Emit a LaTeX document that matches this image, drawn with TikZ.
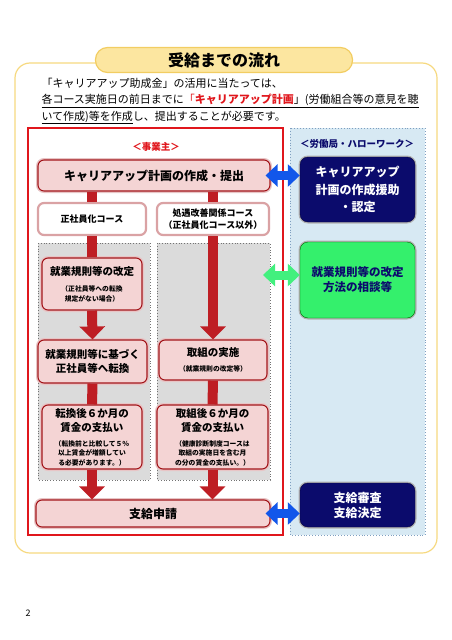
\documentclass[tikz,border=0pt]{standalone}
\usepackage{fontspec}
\setmainfont{Noto Sans CJK JP}
\usetikzlibrary{arrows.meta}
\definecolor{tabline}{HTML}{F2CD62}
\definecolor{tabfill}{HTML}{FCE6A0}
\definecolor{outline}{HTML}{F6D980}
\definecolor{framered}{HTML}{E0161C}
\definecolor{panelblue}{HTML}{D7E9F3}
\definecolor{panelblueline}{HTML}{7F9FC0}
\definecolor{panelgray}{HTML}{DBDBDB}
\definecolor{boxpink}{HTML}{F4D4D4}
\definecolor{boxred}{HTML}{A3161B}
\definecolor{arrred}{HTML}{BE1E24}
\definecolor{navy}{HTML}{0B0B6C}
\definecolor{consultgreen}{HTML}{34F06C}
\definecolor{arrblue}{HTML}{1257EA}
\definecolor{arrgreen}{HTML}{42F07E}
\definecolor{titlered}{HTML}{E0161C}
\newcommand{\notesize}{\fontsize{6.8}{9}\selectfont}
\begin{document}
\begin{tikzpicture}[x=1pt,y=-1pt,
  flowbox/.style={draw=boxred, line width=1.1pt, fill=boxpink, rounded corners=6pt,
    align=center, inner sep=2pt, preaction={draw=boxred!25, line width=4pt}},
  coursebox/.style={draw=boxred!40, line width=2.2pt, fill=white, rounded corners=6pt,
    align=center, inner sep=2pt, font=\fontsize{9}{12}\selectfont\bfseries},
  navybox/.style={draw=navy!60!black, fill=navy, rounded corners=8pt, text=white,
    align=center, preaction={draw=black!30, line width=3pt}},
  panel/.style={fill=panelgray, draw=black!55, dotted, line width=0.8pt},
  redarrow/.style={draw=arrred, line width=10pt},
  redhead/.style={redarrow, -{Triangle[length=13pt,width=25pt]}},
  dblarrow/.style={line width=9pt, {Triangle[length=12pt,width=22pt]}-{Triangle[length=12pt,width=22pt]}}
]
\useasboundingbox (0,0) rectangle (452,640);

% frame and title tab
\draw[outline, line width=1.2pt, rounded corners=15pt] (15,63) rectangle (437,553);
\node[draw=tabline, fill=tabfill, line width=1.2pt, rounded corners=12pt, minimum width=257pt,
  minimum height=25pt, font=\fontsize{16}{16}\selectfont\bfseries] (title) at (224,60) {受給までの流れ};

\node[anchor=west, align=left, font=\fontsize{11}{16.5}\selectfont] (intro) at (38,101)
  {「キャリアアップ助成金」の活用に当たっては、\\
   \underline{各コース実施日の前日までに\textcolor{titlered}{「\textbf{キャリアアップ計画}}」(労働組合等の意見を聴}\\
   \underline{いて作成)等を作成}し、提出することが必要です。};

% the two areas
\draw[framered, line width=1.6pt] (28,128) rectangle (283,535);
\draw[fill=panelblue, draw=panelblueline, dotted, line width=0.9pt] (290,128) rectangle (425,535);
\node[text=framered, font=\fontsize{9.5}{10}\selectfont\bfseries] (owner) at (156,147) {＜事業主＞};
\node[text=navy, font=\fontsize{9.5}{10}\selectfont\bfseries] (office) at (357,144) {＜労働局・ハローワーク＞};

\draw[panel] (38,243) rectangle (150,480);
\draw[panel] (157,243) rectangle (270,480);

% employer side
\node[flowbox, minimum width=232pt, minimum height=31pt, font=\fontsize{12}{14}\selectfont\bfseries]
  (plan) at (154,175.5) {キャリアアップ計画の作成・提出};
\node[coursebox, minimum width=108pt, minimum height=32pt] (regular) at (92,219) {正社員化コース};
\node[coursebox, minimum width=112pt, minimum height=32pt] (treat) at (213,219)
  {処遇改善関係コース\\（正社員化コース以外）};
\node[flowbox, minimum width=100pt, minimum height=52pt, font=\fontsize{10.5}{13}\selectfont\bfseries]
  (rules) at (92,284) {就業規則等の改定\\[3pt]\notesize（正社員等への転換\\[-3pt]\notesize 規定がない場合）};
\node[flowbox, minimum width=109pt, minimum height=43pt, font=\fontsize{10.5}{14}\selectfont\bfseries]
  (convert) at (92.5,361.5) {就業規則等に基づく\\正社員等へ転換};
\node[flowbox, minimum width=108pt, minimum height=40pt, font=\fontsize{10.5}{13}\selectfont\bfseries]
  (action) at (213,360) {取組の実施\\[2pt]\notesize（就業規則の改定等）};
\node[flowbox, minimum width=100pt, minimum height=64pt, font=\fontsize{10.5}{14}\selectfont\bfseries]
  (wage1) at (92,437) {転換後６か月の\\賃金の支払い\\[1pt]\notesize（転換前と比較して５％\\[-4.5pt]\notesize 以上賃金が増額してい\\[-4.5pt]\notesize る必要があります。）};
\node[flowbox, minimum width=111pt, minimum height=64pt, font=\fontsize{10.5}{14}\selectfont\bfseries]
  (wage2) at (212.5,437) {取組後６か月の\\賃金の支払い\\[1pt]\notesize（健康診断制度コースは\\[-4.5pt]\notesize 取組の実施日を含む月\\[-4.5pt]\notesize の分の賃金の支払い。）};
\node[flowbox, minimum width=234pt, minimum height=27pt, font=\fontsize{12}{14}\selectfont\bfseries]
  (apply) at (153,513.5) {支給申請};

% labour office side
\node[navybox, minimum width=115pt, minimum height=65pt, font=\fontsize{12}{17.5}\selectfont\bfseries]
  (support) at (357.5,189.5) {キャリアアップ\\計画の作成援助\\・認定};
\node[draw=green!40!black, fill=consultgreen, rounded corners=8pt, text=navy, align=center,
  preaction={draw=black!30, line width=3pt},
  minimum width=115pt, minimum height=76pt, font=\fontsize{11.5}{15}\selectfont\bfseries]
  (consult) at (357.5,280) {就業規則等の改定\\方法の相談等};
\node[navybox, minimum width=115pt, minimum height=44pt, font=\fontsize{12}{15}\selectfont\bfseries]
  (review) at (357.5,505) {支給審査\\支給決定};

% red flow arrows
\draw[redarrow] (regular.north |- plan.south) -- (regular.north);
\draw[redarrow] (regular.south) -- (rules.north);
\draw[redhead] (rules.south) -- (convert.north);
\draw[redarrow] (convert.south) -- (wage1.north);
\draw[redhead] (wage1.south) -- (wage1.south |- apply.north);
\draw[redarrow] (treat.north |- plan.south) -- (treat.north);
\draw[redhead] (treat.south) -- (action.north);
\draw[redarrow] (action.south) -- (wage2.north);
\draw[redhead] (wage2.south) -- (wage2.south |- apply.north);

% exchange arrows
\coordinate (talk) at (263,275);
\draw[dblarrow, arrblue, shorten <=-5pt] (plan.east) -- (plan.east -| support.west);
\draw[dblarrow, arrgreen] (talk) -- (talk -| consult.west);
\draw[dblarrow, arrblue, shorten <=-5pt] (apply.east) -- (apply.east -| review.west);

\node[font=\fontsize{9}{10}\selectfont] (pageno) at (28,613) {2};
\end{tikzpicture}
\end{document}
